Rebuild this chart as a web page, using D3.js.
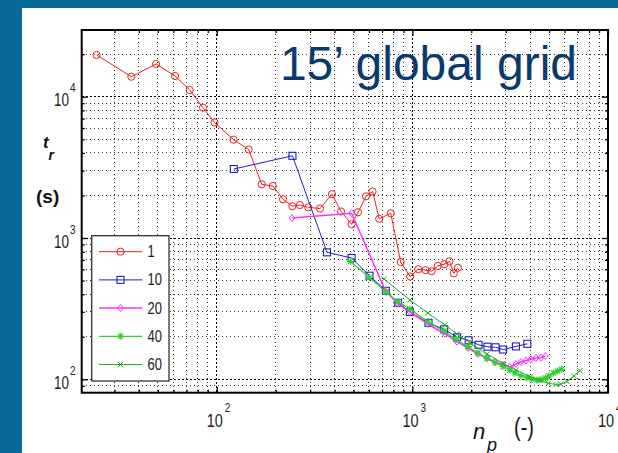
<!DOCTYPE html>
<html><head><meta charset="utf-8">
<script src="https://cdn.jsdelivr.net/npm/d3@7"></script>
<style>body{margin:0;background:#fff}svg{display:block}text{font-family:"Liberation Sans",Arial,sans-serif}</style>
</head><body>
<svg id="c" width="618" height="453"></svg>
<script>
// ---- data ----
const seriesNames = ["1", "10", "20", "40", "60"];
const np1 = [24.3, 36.6, 49, 61.2, 72.7, 85.1, 97.4, 121.9, 145.7, 169.8, 193.5, 218.2, 243.4, 265.9, 293.5, 337.3, 388.3, 431.8, 489, 527.2, 580, 626, 676.8, 775.5, 871.3, 974.5, 1072, 1167, 1253, 1348, 1455, 1547, 1628, 1710];
const tr1 = [19730, 13850, 17040, 14010, 11150, 8360, 6570, 4963, 4229, 2399, 2333, 1879, 1679, 1712, 1649, 1617, 2042, 1540, 1252, 1520, 1973, 2134, 1367, 1496, 676, 534, 601, 592, 582, 634, 652, 684, 562, 616];
const np10 = [122.2, 243.7, 366, 489, 604, 731.5, 846, 971, 1209, 1454, 1694, 1940, 2177, 2420, 2661, 2911, 3383, 3870];
const tr10 = [3078, 3816, 792, 722, 541, 423, 348, 299.5, 251, 225.9, 198.3, 188.8, 175.5, 170.1, 168.5, 162.5, 170.9, 178.3];
const np20 = [242.8, 489, 728.8, 844, 972, 1201, 1468, 1690, 1924, 2164, 2406, 2643, 2904, 3153, 3383, 3588, 3806, 4036, 4281, 4541, 4787];
const tr20 = [1385, 1496, 421.5, 341, 299.5, 246.3, 209.3, 184.6, 166.6, 151, 140.8, 133.2, 126.2, 122.2, 128.3, 132.6, 135.8, 138.5, 141.5, 142.7, 146.2];
const np40 = [482.2, 603.6, 733, 844, 972, 1201, 1450, 1670, 1924, 2164, 2406, 2643, 2904, 3153, 3344, 3588, 3851, 4084, 4332, 4541, 4787, 4989, 5260, 5513, 5794];
const tr40 = [682, 525.5, 414.8, 352.4, 314.5, 254.4, 219.7, 191.2, 170.1, 153.5, 140.8, 131.5, 123.2, 116.4, 110.8, 106.4, 102.6, 100.5, 98.9, 99.7, 102.1, 105.5, 110.8, 114.5, 117.7];
const np60 = [716, 972, 1201, 1468, 1690, 1970, 2406, 2904, 3383, 3990, 4487, 4960, 5418, 5746, 6166, 6695, 7194];
const tr60 = [512.7, 364, 294.6, 242.3, 209.3, 180.7, 151.1, 129.4, 116.4, 104.3, 98.1, 93.7, 91.9, 92.2, 96.5, 105.5, 115.1];
const xMajor = [100, 1000, 10000];
const yMajor = [100, 1000, 10000];
const xExponents = ["2", "3", "4"];
const yExponents = ["2", "3", "4"];
const titleText = "15\u2019 global grid";

// ---- layout ----
const svg = d3.select("#c");
const L = 81.7, R = 608, T = 30, B = 392.7;
const x = d3.scaleLog().domain([20.4, 10000]).range([L, R]);
const y = d3.scaleLog().domain([80.4, 29650]).range([B, T]);

// background: blue frame strips
svg.append("rect").attr("x", 0).attr("y", 0).attr("width", 618).attr("height", 453).attr("fill", "#07689a");
svg.append("rect").attr("x", 22).attr("y", 8).attr("width", 596).attr("height", 445).attr("fill", "#fff");

// minor ticks values
const xMinor = [], yMinor = [];
for (let d = 10; d <= 1000; d *= 10) for (let k = 2; k <= 9; k++) { const v = d * k; if (v >= 20.4 && v <= 10000) xMinor.push(v); }
for (let d = 10; d <= 10000; d *= 10) for (let k = 2; k <= 9; k++) { const v = d * k; if (v >= 80.4 && v <= 29650) yMinor.push(v); }

const grid = svg.append("g");
grid.selectAll(".vx").data(xMinor).join("line")
  .attr("x1", d => x(d)).attr("x2", d => x(d)).attr("y1", T).attr("y2", B)
  .attr("stroke", "#333").attr("stroke-width", 1).attr("stroke-dasharray", "1,3").attr("shape-rendering", "crispEdges");
grid.selectAll(".vy").data(yMinor).join("line")
  .attr("y1", d => y(d)).attr("y2", d => y(d)).attr("x1", L).attr("x2", R)
  .attr("stroke", "#333").attr("stroke-width", 1).attr("stroke-dasharray", "1,3").attr("shape-rendering", "crispEdges");
grid.selectAll(".mx").data(xMajor.slice(0, 2)).join("line")
  .attr("x1", d => x(d)).attr("x2", d => x(d)).attr("y1", T).attr("y2", B)
  .attr("stroke", "#000").attr("stroke-width", 1).attr("stroke-dasharray", "2,2").attr("shape-rendering", "crispEdges");
grid.selectAll(".my").data(yMajor).join("line")
  .attr("y1", d => y(d)).attr("y2", d => y(d)).attr("x1", L).attr("x2", R)
  .attr("stroke", "#000").attr("stroke-width", 1).attr("stroke-dasharray", "2,2").attr("shape-rendering", "crispEdges");

// axes ticks (inside) with d3 axes
function tickAxis(axisFn, scale, vals, size, tx, ty) {
  const g = svg.append("g").attr("transform", `translate(${tx},${ty})`)
    .call(axisFn(scale).tickValues(vals).tickSize(size).tickFormat(""));
  g.select(".domain").remove();
  g.selectAll(".tick line").attr("stroke", "#000").attr("stroke-width", 1.3);
  return g;
}
tickAxis(d3.axisBottom, x, xMinor, -3, 0, B);
tickAxis(d3.axisBottom, x, xMajor, -6, 0, B);
tickAxis(d3.axisTop, x, xMinor, -3, 0, T);
tickAxis(d3.axisTop, x, xMajor, -6, 0, T);
tickAxis(d3.axisLeft, y, yMinor, -3, L, 0);
tickAxis(d3.axisLeft, y, yMajor, -6, L, 0);
tickAxis(d3.axisRight, y, yMinor, -3, R, 0);
tickAxis(d3.axisRight, y, yMajor, -6, R, 0);

// frame
svg.append("rect").attr("x", L).attr("y", T).attr("width", R - L).attr("height", B - T)
  .attr("fill", "none").attr("stroke", "#000").attr("stroke-width", 2);

// tick labels
const lab = svg.append("g").attr("fill", "#222");
xMajor.forEach((v, i) => {
  lab.append("text").attr("transform", `translate(${x(v) - 10},427) scale(1,1.3)`)
    .attr("font-size", 14.5).text("10");
  lab.append("text").attr("transform", `translate(${x(v) + 8},411.5) scale(1,1.3)`)
    .attr("font-size", 10).text(xExponents[i]);
});
yMajor.forEach((v, i) => {
  lab.append("text").attr("transform", `translate(69,${y(v) + 9.5}) scale(1,1.3)`)
    .attr("font-size", 13.5).attr("text-anchor", "end").text("10");
  lab.append("text").attr("transform", `translate(70,${y(v) - 4.5}) scale(1,1.3)`)
    .attr("font-size", 10).text(yExponents[i]);
});

// axis titles
svg.append("text").attr("x", 43).attr("y", 148).attr("font-size", 17).attr("font-style", "italic").attr("font-weight", "bold").attr("fill", "#111").text("t");
svg.append("text").attr("x", 48.5).attr("y", 160).attr("font-size", 14).attr("font-style", "italic").attr("font-weight", "bold").attr("fill", "#111").text("r");
svg.append("text").attr("x", 36).attr("y", 203).attr("font-size", 19).attr("font-weight", "bold").attr("fill", "#111").text("(s)");
svg.append("text").attr("x", 473).attr("y", 439).attr("font-size", 22).attr("font-style", "italic").attr("fill", "#111").text("n");
svg.append("text").attr("x", 487).attr("y", 451).attr("font-size", 18).attr("font-style", "italic").attr("fill", "#111").text("p");
svg.append("text").attr("transform", "translate(514,436) scale(1,1.25)").attr("font-size", 20).attr("fill", "#111").text("(-)");

// title
svg.append("text").attr("x", 577).attr("y", 80).attr("text-anchor", "end").attr("font-size", 48)
  .attr("fill", "#0a3a6c").text(titleText);

// series
svg.append("clipPath").attr("id", "pc").append("rect").attr("x", L).attr("y", T).attr("width", R - L).attr("height", B - T);
const colors = ["#f02020", "#2020c0", "#ff30ff", "#30d030", "#20b020"];
const widths = [1, 1, 1.5, 1.2, 1];
const data = [[np1, tr1], [np10, tr10], [np20, tr20], [np40, tr40], [np60, tr60]];
const line = d3.line().x(d => x(d[0])).y(d => y(d[1]));

function marker(g, type, cx, cy, color) {
  if (type === 0) g.append("circle").attr("cx", cx).attr("cy", cy).attr("r", 3.6).attr("fill", "none").attr("stroke", color).attr("stroke-width", 1);
  else if (type === 1) g.append("rect").attr("x", cx - 3.5).attr("y", cy - 3.5).attr("width", 7).attr("height", 7).attr("fill", "none").attr("stroke", color).attr("stroke-width", 1.1);
  else if (type === 2) g.append("path").attr("d", `M${cx},${cy - 3.5}L${cx + 2.8},${cy}L${cx},${cy + 3.5}L${cx - 2.8},${cy}Z`).attr("fill", "none").attr("stroke", color).attr("stroke-width", 1);
  else if (type === 3) g.append("path").attr("d", `M${cx - 3.5},${cy}H${cx + 3.5}M${cx},${cy - 3.5}V${cy + 3.5}M${cx - 2.6},${cy - 2.6}L${cx + 2.6},${cy + 2.6}M${cx - 2.6},${cy + 2.6}L${cx + 2.6},${cy - 2.6}`).attr("stroke", color).attr("stroke-width", 1.2);
  else g.append("path").attr("d", `M${cx - 2.6},${cy - 2.6}L${cx + 2.6},${cy + 2.6}M${cx - 2.6},${cy + 2.6}L${cx + 2.6},${cy - 2.6}`).attr("stroke", color).attr("stroke-width", 1);
}

const plot = svg.append("g").attr("clip-path", "url(#pc)");
data.forEach(([xs, ys], i) => {
  const pts = xs.map((v, j) => [v, ys[j]]);
  const g = plot.append("g");
  g.append("path").datum(pts).attr("d", line).attr("fill", "none").attr("stroke", colors[i]).attr("stroke-width", widths[i]);
  pts.forEach(p => marker(g, i, x(p[0]), y(p[1]), colors[i]));
});

// legend
const lg = svg.append("g");
lg.append("rect").attr("x", 91.7).attr("y", 235.7).attr("width", 77.3).attr("height", 145.3)
  .attr("fill", "#fff").attr("stroke", "#333").attr("stroke-width", 1.3);
seriesNames.forEach((n, i) => {
  const yy = 251.7 + i * 28.2;
  lg.append("line").attr("x1", 99).attr("x2", 142.3).attr("y1", yy).attr("y2", yy).attr("stroke", colors[i]).attr("stroke-width", widths[i]);
  marker(lg, i, 120.5, yy, colors[i]);
  lg.append("text").attr("transform", `translate(147.5,${yy + 5.5}) scale(1,1.25)`).attr("font-size", 13).attr("fill", "#222").text(n);
});
</script>
</body></html>
